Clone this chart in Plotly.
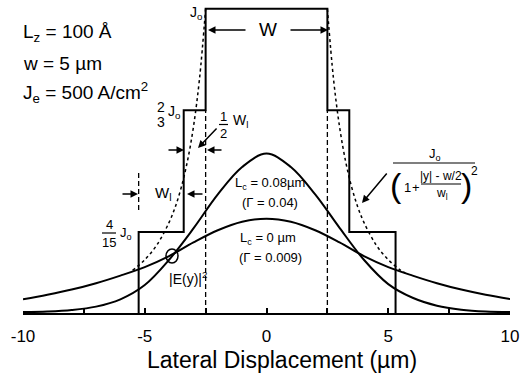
import plotly.graph_objects as go

# ---------------- data ----------------
x_mode = [-10, -9, -8, -7, -6, -5, -4, -3, -2, -1, 0, 1, 2, 3, 4, 5, 6, 7, 8, 9, 10]
mode_lc008 = [0.003, 0.005, 0.010, 0.021, 0.045, 0.092, 0.175, 0.278, 0.390, 0.480, 0.524,
              0.480, 0.390, 0.280, 0.175, 0.095, 0.050, 0.024, 0.011, 0.005, 0.003]
mode_lc0 = [0.045, 0.060, 0.077, 0.098, 0.123, 0.151, 0.187, 0.232, 0.272, 0.300, 0.310,
            0.300, 0.272, 0.232, 0.187, 0.151, 0.123, 0.098, 0.077, 0.060, 0.046]

step_edges = [-5.25, -3.4, -2.5, 2.5, 3.4, 5.3]
step_levels = [4 / 15, 2 / 3, 1.0, 2 / 3, 4 / 15]

lor_left_x = [-5.5, -5.0, -4.5, -4.0, -3.75, -3.5, -3.25, -3.0, -2.75, -2.5]
lor_left_y = [0.140, 0.175, 0.224, 0.298, 0.348, 0.413, 0.498, 0.612, 0.771, 1.0]
lor_right_x = [2.5, 2.75, 3.0, 3.25, 3.5, 3.75, 4.0, 4.5, 5.0, 5.5, 5.7]
lor_right_y = [1.0, 0.771, 0.612, 0.498, 0.413, 0.348, 0.298, 0.224, 0.175, 0.141, 0.131]

tick_vals = [-10, -5, 0, 5, 10]
tick_text = ["-10", "-5", "0", "5", "10"]

# ---------------- geometry helpers ----------------
W, H = 527, 383
ML, MR, MT, MB = 23, 17, 2, 70
PW, PH = W - ML - MR, H - MT - MB
X0PX, XSC = 266.5, 24.35
Y0PX = H - MB
YSC = 304.2
YTOP = PH / YSC
FONT = "Liberation Sans, Arial, Helvetica, sans-serif"


def dx(px):
    return (px - X0PX) / XSC


def dy(py):
    return (Y0PX - py) / YSC


def fx(px):
    return (px - ML) / PW


def fy(py):
    return (Y0PX - py) / PH


fig = go.Figure()

# step profile
sx = [step_edges[0]] + step_edges
sy = [0] + step_levels + [0]
fig.add_trace(go.Scatter(x=sx, y=sy, mode="lines", line=dict(color="black", width=2, shape="hv"),
                         hoverinfo="skip"))
# dotted current-spreading profile
fig.add_trace(go.Scatter(x=lor_left_x, y=lor_left_y, mode="lines",
                         line=dict(color="black", width=1.5, dash="dot", shape="spline")))
fig.add_trace(go.Scatter(x=lor_right_x, y=lor_right_y, mode="lines",
                         line=dict(color="black", width=1.5, dash="dot", shape="spline")))
# mode profiles
fig.add_trace(go.Scatter(x=x_mode, y=mode_lc008, mode="lines",
                         line=dict(color="black", width=2, shape="spline", smoothing=1.0)))
fig.add_trace(go.Scatter(x=x_mode, y=mode_lc0, mode="lines",
                         line=dict(color="black", width=2, shape="spline", smoothing=1.0)))

shapes = []
dash = dict(color="black", width=1.3, dash="5px,3px")
shapes.append(dict(type="line", xref="x", yref="y", x0=-2.5, x1=-2.5, y0=0, y1=2 / 3, line=dash))
shapes.append(dict(type="line", xref="x", yref="y", x0=2.5, x1=2.5, y0=0, y1=2 / 3, line=dash))
shapes.append(dict(type="line", xref="x", yref="y", x0=-5.25, x1=-5.25, y0=dy(210), y1=dy(172), line=dash))


def hline(px0, px1, py, w=1.2):
    shapes.append(dict(type="line", xref="x", yref="y", x0=dx(px0), x1=dx(px1), y0=dy(py), y1=dy(py),
                       line=dict(color="black", width=w)))


hline(219, 228, 124.5)      # 1/2 bar
hline(102, 116, 233)        # 4/15 bar
hline(393, 475, 163)        # formula main bar
hline(421, 461, 184)        # formula inner bar

# loop around crossing
shapes.append(dict(type="circle", xref="x", yref="y", xsizemode="pixel", ysizemode="pixel",
                   xanchor=dx(172), yanchor=dy(256), x0=-6, x1=6, y0=-7, y1=7,
                   line=dict(color="black", width=1.5)))

ann = []


def txt(px, py, s, size=14, xanchor="center"):
    ann.append(dict(x=fx(px), y=fy(py), xref="paper", yref="paper", text=s, showarrow=False,
                    xanchor=xanchor, yanchor="middle", font=dict(family=FONT, size=size, color="black")))


def arrow(px0, py0, px1, py1):
    ann.append(dict(x=dx(px1), y=dy(py1), ax=dx(px0), ay=dy(py0), xref="x", yref="y",
                    axref="x", ayref="y", text="", showarrow=True, arrowhead=2, arrowsize=1,
                    arrowwidth=1.5, arrowcolor="black"))


# parameter block
txt(21, 33, "L<sub>z</sub> = 100 Å", 19, "left")
txt(21, 63, "w = 5 µm", 19, "left")
txt(21, 92, "J<sub>e</sub> = 500 A/cm<sup>2</sup>", 19, "left")

# top
txt(196, 13, "J<sub>o</sub>", 14)
txt(268, 30, "W", 19)
arrow(247, 30, 208, 30)
arrow(289, 30, 328, 30)

# 2/3 Jo
txt(161, 107, "2", 14)
txt(161, 122, "3", 14)
txt(174, 112, "J<sub>o</sub>", 14)

# 1/2 Wl
txt(223, 116, "1", 13)
txt(223, 133, "2", 13)
txt(240, 121, "W<sub>l</sub>", 14)
arrow(218, 127, 198, 148)
arrow(167, 150, 184, 150)
arrow(223, 150, 207, 150)

# Wl
arrow(121, 194, 138, 194)
txt(163, 193, "W<sub>l</sub>", 15)
arrow(204, 194, 187, 194)

# 4/15 Jo
txt(109, 225, "4", 13)
txt(109, 242, "15", 13)
txt(126, 233, "J<sub>o</sub>", 13)

# mode labels
txt(270, 183, "L<sub>c</sub> = 0.08µm", 13)
txt(270, 202, "(Γ = 0.04)", 13)
txt(268, 238, "L<sub>c</sub> = 0 µm", 13)
txt(270, 257, "(Γ = 0.009)", 13)
txt(188, 278, "|E(y)|<sup>2</sup>", 14)

# formula
txt(435, 154, "J<sub>o</sub>", 13)
txt(396, 185, "(", 34)
txt(407, 187, "1", 13)
txt(416, 187, "+", 13)
txt(441, 176, "|y| - w/2", 12)
txt(442, 194, "w<sub>l</sub>", 12)
txt(466, 185, ")", 34)
txt(474, 171, "2", 12)
arrow(388, 172, 362, 203)

# axis title
txt(282, 360, "Lateral Displacement (µm)", 23)

fig.update_layout(
    width=W, height=H, margin=dict(l=ML, r=MR, t=MT, b=MB),
    paper_bgcolor="white", plot_bgcolor="white", showlegend=False,
    shapes=shapes, annotations=ann,
    xaxis=dict(range=[-10, 10], showgrid=False, zeroline=False, showline=True, linecolor="black",
               linewidth=2, tickmode="array", tickvals=tick_vals, ticktext=tick_text,
               ticks="inside", ticklen=5, tickwidth=1.5, tickcolor="black",
               minor=dict(tickvals=[-7.5, -2.5, 2.5, 7.5], ticks="inside", ticklen=5, tickwidth=1.5,
                          tickcolor="black"),
               tickfont=dict(family=FONT, size=17, color="black"), ticklabelstandoff=7),
    yaxis=dict(range=[0, YTOP], visible=False, showgrid=False, zeroline=False),
)

fig.write_html("out.html")
